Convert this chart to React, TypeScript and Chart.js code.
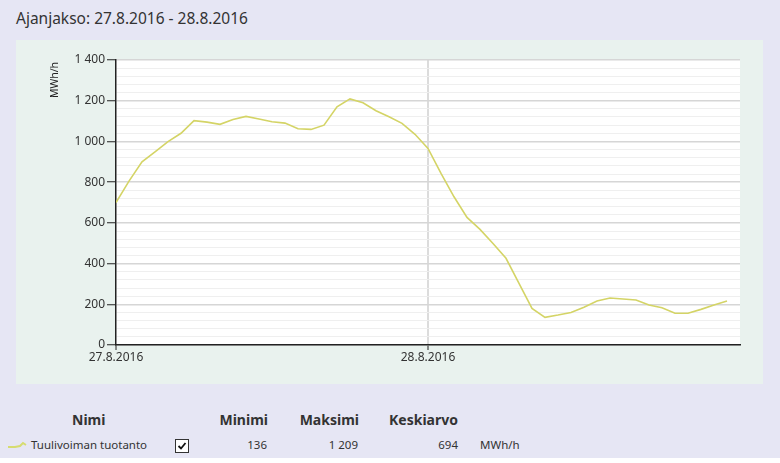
import React, { useEffect, useRef } from 'react';
import { Chart, registerables } from 'chart.js';

Chart.register(...registerables);

// Hours from 27.8.2016 00:00
const hours = [
  0, 1, 2, 3, 4, 5, 6, 7, 8, 9, 10, 11, 12, 13, 14, 15, 16, 17, 18, 19, 20, 21, 22, 23,
  24, 25, 26, 27, 28, 29, 30, 31, 32, 33, 34, 35, 36, 37, 38, 39, 40, 41, 42, 43, 44, 45, 46, 47,
];
// Tuulivoiman tuotanto, MWh/h
const production = [
  700, 805, 900, 949, 999, 1040, 1102, 1095, 1084, 1108, 1123, 1110,
  1097, 1090, 1062, 1059, 1080, 1170, 1209, 1190, 1151, 1121, 1089, 1035,
  966, 843, 728, 627, 568, 499, 426, 303, 180, 136, 147, 160,
  185, 216, 231, 226, 221, 196, 183, 156, 156, 175, 196, 216,
];
const xTickValues = [0, 24, 48];
const xTickLabels = ['27.8.2016', '28.8.2016', ''];
const yMin = 0;
const yMax = 1400;
const yMinorStep = 40;
const yMajorStep = 200;

const title = 'Ajanjakso: 27.8.2016 - 28.8.2016';
const seriesName = 'Tuulivoiman tuotanto';
const unit = 'MWh/h';
const statHeaders = ['Minimi', 'Maksimi', 'Keskiarvo'];
const statValues = ['136', '1 209', '694'];

const FONT = '"Noto Sans", "Open Sans", sans-serif';
const LINE_COLOR = '#d4d466';

function fmt(v: number): string {
  const s = String(Math.round(v));
  return s.replace(/\B(?=(\d{3})+(?!\d))/g, ' ');
}

const whiteArea = {
  id: 'whiteArea',
  beforeDraw(chart: any) {
    const { ctx, chartArea } = chart;
    ctx.save();
    ctx.fillStyle = '#ffffff';
    ctx.fillRect(chartArea.left, chartArea.top, chartArea.right - chartArea.left, chartArea.bottom - chartArea.top);
    ctx.restore();
  },
};

const yTitle = {
  id: 'yTitle',
  afterDraw(chart: any) {
    const { ctx, chartArea } = chart;
    ctx.save();
    ctx.translate(chartArea.left - 61, chartArea.top + 20);
    ctx.rotate(-Math.PI / 2);
    ctx.font = `10.5px ${FONT}`;
    ctx.fillStyle = '#222';
    ctx.textAlign = 'center';
    ctx.textBaseline = 'middle';
    ctx.fillText(unit, 0, 0);
    ctx.restore();
  },
};

function ChartPanel() {
  const ref = useRef<HTMLCanvasElement | null>(null);
  useEffect(() => {
    if (!ref.current) return;
    const chart = new Chart(ref.current, {
      type: 'line',
      data: {
        datasets: [
          {
            label: seriesName,
            data: hours.map((h, i) => ({ x: h, y: production[i] })),
            borderColor: LINE_COLOR,
            borderWidth: 1.6,
            pointRadius: 0,
            tension: 0,
            fill: false,
          },
        ],
      },
      options: {
        animation: false,
        responsive: false,
        maintainAspectRatio: false,
        layout: { padding: { left: 0, top: 20, right: 23, bottom: 0 } },
        plugins: { legend: { display: false }, tooltip: { enabled: false } },
        scales: {
          x: {
            type: 'linear',
            min: 0,
            max: 48,
            afterBuildTicks: (scale: any) => {
              scale.ticks = xTickValues.map((v) => ({ value: v }));
            },
            afterFit: (scale: any) => {
              scale.height = 39;
            },
            ticks: {
              autoSkip: false,
              maxRotation: 0,
              padding: 0,
              color: '#333',
              font: { family: FONT, size: 12 },
              callback: (_v: any, i: number) => xTickLabels[i],
            },
            grid: {
              drawOnChartArea: true,
              color: (c: any) => (c.tick && c.tick.value === 24 ? '#dcdcdc' : 'rgba(0,0,0,0)'),
              lineWidth: 2,
              tickColor: (c: any) => (c.tick && c.tick.value < 48 ? '#222' : 'rgba(0,0,0,0)'),
              tickLength: 5,
              tickWidth: 1,
            },
            border: { display: true, color: '#222', width: 1.5 },
          },
          y: {
            type: 'linear',
            min: yMin,
            max: yMax,
            afterFit: (scale: any) => {
              scale.width = 100;
            },
            ticks: {
              stepSize: yMinorStep,
              autoSkip: false,
              padding: 2,
              color: '#333',
              font: { family: FONT, size: 12 },
              callback: (v: any) => (Number(v) % yMajorStep === 0 ? fmt(Number(v)) : ''),
            },
            grid: {
              color: (c: any) =>
                c.tick && c.tick.value % yMajorStep === 0 ? '#d6d6d6' : '#efefef',
              lineWidth: (c: any) => (c.tick && c.tick.value % yMajorStep === 0 ? 1.5 : 1),
              tickColor: (c: any) =>
                c.tick && c.tick.value % yMajorStep === 0 ? '#222' : 'rgba(0,0,0,0)',
              tickLength: 9,
              tickWidth: 1,
            },
            border: { display: true, color: '#222', width: 1.5 },
          },
        },
      },
      plugins: [whiteArea, yTitle],
    });
    return () => chart.destroy();
  }, []);
  return <canvas ref={ref} width={747} height={344} style={{ display: 'block' }} />;
}

function LegendIcon() {
  return (
    <svg width="20" height="10" viewBox="0 0 20 10" style={{ display: 'block' }}>
      <polyline points="1,7 8,7 13,6 16,3 19,5" fill="none" stroke="#d6dc70" strokeWidth="2" />
    </svg>
  );
}

export default function App() {
  const headerStyle: React.CSSProperties = {
    position: 'absolute',
    top: 411,
    fontFamily: FONT,
    fontWeight: 700,
    fontSize: 14,
    color: '#333',
    lineHeight: '18px',
    whiteSpace: 'nowrap',
  };
  const cellStyle: React.CSSProperties = {
    position: 'absolute',
    top: 437,
    fontFamily: FONT,
    fontSize: 11.5,
    color: '#333',
    lineHeight: '16px',
    whiteSpace: 'nowrap',
  };
  const rightEdges = [268, 359, 458];
  const valueEdges = [267, 358, 458];
  return (
    <div
      style={{
        position: 'fixed',
        left: 0,
        top: 0,
        width: 780,
        height: 463,
        background: '#ffffff',
        overflow: 'hidden',
      }}
    >
      <div style={{ position: 'absolute', left: 0, top: 0, width: 780, height: 458, background: '#e6e6f4' }} />
      <div
        style={{
          position: 'absolute',
          left: 16,
          top: 7,
          fontFamily: FONT,
          fontSize: 15.5,
          color: '#333',
          lineHeight: '22px',
          whiteSpace: 'nowrap',
        }}
      >
        {title}
      </div>
      <div style={{ position: 'absolute', left: 16, top: 40, width: 747, height: 344, background: '#e9f2ee' }}>
        <ChartPanel />
      </div>
      <div style={{ ...headerStyle, left: 72, width: 32, textAlign: 'center' }}>Nimi</div>
      {statHeaders.map((h, i) => (
        <div key={h} style={{ ...headerStyle, left: rightEdges[i] - 120, width: 120, textAlign: 'right' }}>
          {h}
        </div>
      ))}
      <div style={{ position: 'absolute', left: 7, top: 440 }}>
        <LegendIcon />
      </div>
      <div style={{ ...cellStyle, left: 31 }}>{seriesName}</div>
      <div
        style={{
          position: 'absolute',
          left: 175,
          top: 439,
          width: 12,
          height: 12,
          border: '1px solid #333',
          background: '#fff',
        }}
      >
        <svg width="12" height="12" viewBox="0 0 12 12" style={{ display: 'block' }}>
          <polyline points="2.5,6 5,8.5 9.5,3" fill="none" stroke="#111" strokeWidth="1.8" />
        </svg>
      </div>
      {statValues.map((v, i) => (
        <div key={i} style={{ ...cellStyle, left: valueEdges[i] - 100, width: 100, textAlign: 'right' }}>
          {v}
        </div>
      ))}
      <div style={{ ...cellStyle, left: 480 }}>{unit}</div>
    </div>
  );
}
